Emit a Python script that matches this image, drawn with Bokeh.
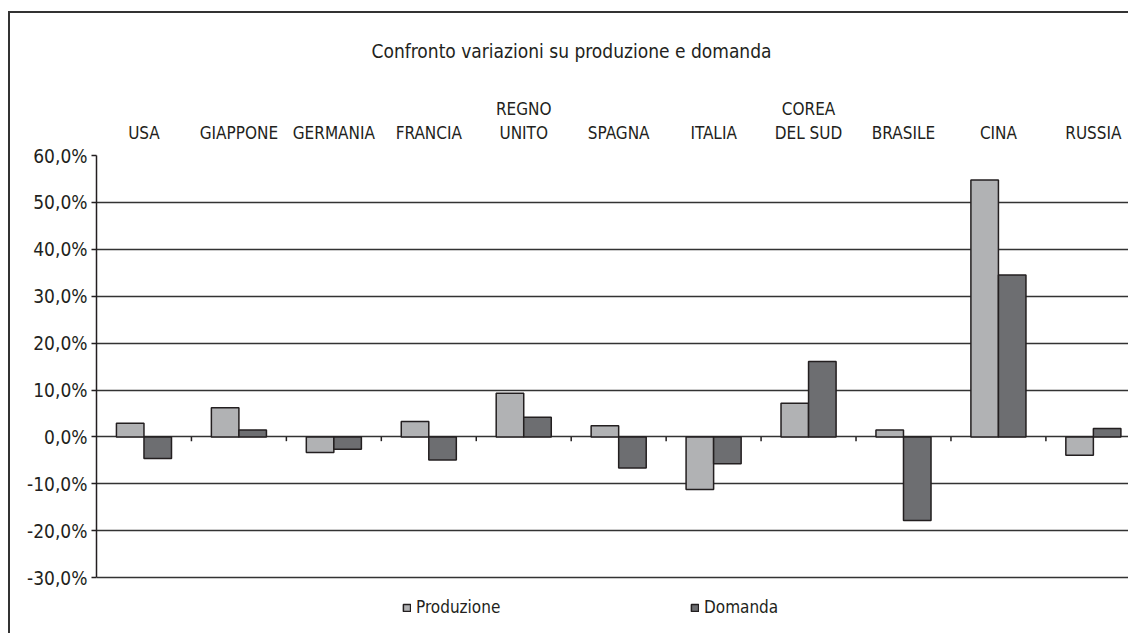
from bokeh.plotting import figure
from bokeh.models import (Range1d, FixedTicker, LinearAxis, Legend, LegendItem,
                          ColumnDataSource)
from bokeh.embed import file_html
from bokeh.resources import INLINE

# ---- data ----
categories = ["USA", "GIAPPONE", "GERMANIA", "FRANCIA", "REGNO\nUNITO", "SPAGNA",
              "ITALIA", "COREA\nDEL SUD", "BRASILE", "CINA", "RUSSIA"]
produzione = [2.9, 6.2, -3.3, 3.3, 9.3, 2.4, -11.2, 7.2, 1.5, 54.8, -3.9]
domanda = [-4.6, 1.5, -2.6, -4.9, 4.2, -6.6, -5.7, 16.1, -17.8, 34.5, 1.8]
y_ticks = [-30, -20, -10, 0, 10, 20, 30, 40, 50, 60]
y_tick_labels = ["-30,0%", "-20,0%", "-10,0%", "0,0%", "10,0%", "20,0%",
                 "30,0%", "40,0%", "50,0%", "60,0%"]
title_text = "Confronto variazioni su produzione e domanda"
series_names = ["Produzione", "Domanda"]

FONT = "DejaVu Sans Condensed, sans-serif"
INK = "#231f20"
C_PROD = "#b1b2b4"
C_DOM = "#6d6e71"

n = len(categories)
centers = [i + 0.5 for i in range(n)]
bar_w = 0.29

frame_bg = ("linear-gradient(#333,#333) 8px 11px / 2px 100% no-repeat, "
            "linear-gradient(#333,#333) 8px 11px / 100% 2px no-repeat, white")

# frame spans 155..633 px; the axis scale ends at -30, the space below holds the legend
p = figure(width=1128, height=633, output_backend="svg", toolbar_location=None,
           x_range=Range1d(0, 10.87), y_range=Range1d(-41.9, 60),
           x_axis_location=None, y_axis_location=None,
           min_border_left=96, min_border_right=0, min_border_top=155,
           min_border_bottom=0,
           styles={"background": frame_bg})
p.outline_line_color = None
p.background_fill_color = "white"
p.border_fill_alpha = 0

# title
p.title.text = title_text
p.title.align = "left"
p.title.offset = 275
p.title.text_font = FONT
p.title.text_font_size = "19px"
p.title.text_font_style = "normal"
p.title.text_color = INK
p.title.standoff = 67

# y axis
yax = LinearAxis(ticker=FixedTicker(ticks=y_ticks), bounds=(y_ticks[0], y_ticks[-1]),
                 major_label_overrides={t: l for t, l in zip(y_ticks, y_tick_labels)})
yax.axis_line_color = INK
yax.axis_line_width = 1.5
yax.major_tick_out = 5
yax.major_tick_in = 0
yax.major_tick_line_color = INK
yax.major_tick_line_width = 1.5
yax.minor_tick_line_color = None
yax.major_label_text_font = FONT
yax.major_label_text_font_size = "19px"
yax.major_label_text_color = INK
yax.major_label_standoff = 4
p.add_layout(yax, "left")

# x axis (categories on top)
xax = LinearAxis(ticker=FixedTicker(ticks=centers),
                 major_label_overrides={c: l for c, l in zip(centers, categories)})
xax.axis_line_color = None
xax.major_tick_line_color = None
xax.minor_tick_line_color = None
xax.major_label_text_font = FONT
xax.major_label_text_font_size = "17px"
xax.major_label_text_color = INK
xax.major_label_standoff = 7
p.add_layout(xax, "above")

# horizontal grid
p.ygrid.ticker = FixedTicker(ticks=y_ticks)
p.ygrid.grid_line_color = "#333333"
p.ygrid.grid_line_width = 1.5
p.xgrid.grid_line_color = None
p.grid.level = "underlay"

# category separators on zero line
bounds = [i for i in range(1, n + 1)]
p.segment(x0=bounds, x1=bounds, y0=[0] * n, y1=[-0.9] * n,
          line_color=INK, line_width=1.5)

src = ColumnDataSource(dict(
    xp=[c - bar_w / 2 for c in centers],
    xd=[c + bar_w / 2 for c in centers],
    prod=produzione, dom=domanda))

r1 = p.vbar(x="xp", top="prod", bottom=0, width=bar_w, source=src,
            fill_color=C_PROD, line_color=INK, line_width=1.5)
r2 = p.vbar(x="xd", top="dom", bottom=0, width=bar_w, source=src,
            fill_color=C_DOM, line_color=INK, line_width=1.5)

lg = Legend(items=[LegendItem(label=series_names[0], renderers=[r1]),
                   LegendItem(label=series_names[1], renderers=[r2])],
            orientation="horizontal", location=(306, 16))
lg.glyph_width = 9
lg.glyph_height = 9
lg.label_standoff = 5
lg.label_width = 118
lg.spacing = 156
lg.padding = 0
lg.margin = 0
lg.border_line_color = None
lg.background_fill_alpha = 0
lg.label_text_font = FONT
lg.label_text_font_size = "17px"
lg.label_text_color = INK
lg.label_height = 20
p.add_layout(lg, "center")

open("out.html", "w").write(file_html(p, INLINE))
